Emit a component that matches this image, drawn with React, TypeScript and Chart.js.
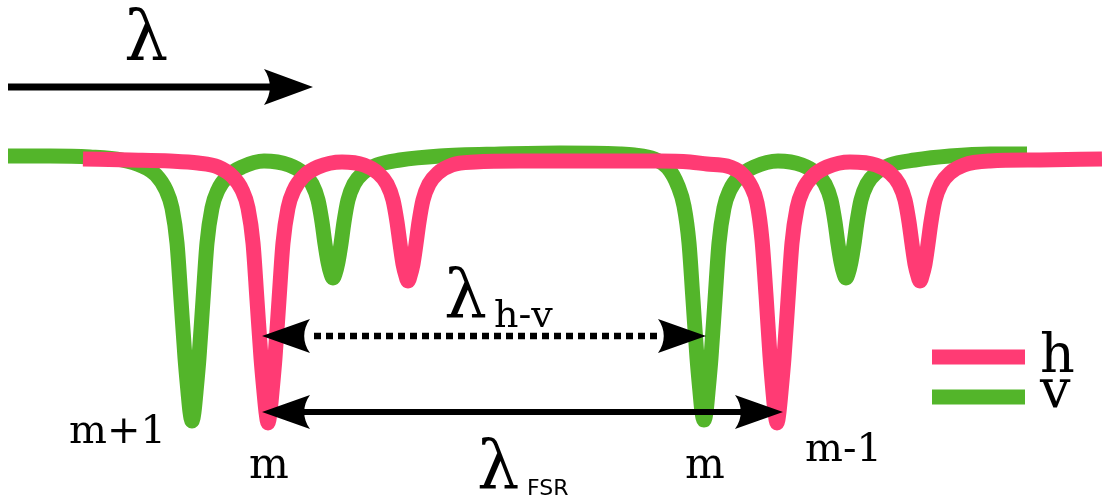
import React, { useEffect, useRef } from "react";
import { Chart, registerables } from "chart.js";

Chart.register(...registerables);

// ---- data (x: wavelength a.u., y: depth a.u., larger = deeper) ----
const hLabel = "h";
const vLabel = "v";

const hX = [83,130,170,198,218,232,242,248,253,257,261,264,266,268,270,272,275,279,283,288,294,304,318,342,364,378,387,393,397,400,403,406,408,410,413,416,419,423,429,438,452,475,520,600,660,690,707,727,741,751,757,762,766,770,773,775,777,779,781,784,788,792,797,803,813,827,850,876,890,899,905,909,912,915,918,920,922,925,928,931,935,941,950,964,990,1040,1102];
const hY = [159,160,161,163,167,176,190,208,243,300,358,392,412,423,412,392,358,300,243,208,190,176,167,162,165,173,184,200,222,244,264,276,281,276,264,244,222,200,184,173,165,162,161,161,161,162,164,166,173,186,203,240,295,356,392,412,423,412,392,358,300,243,208,190,176,167,162,165,173,184,200,222,244,264,276,281,276,264,244,222,200,184,173,165,161,160,159];

const vX = [8,50,90,122,142,156,166,172,177,181,185,188,190,192,194,196,199,203,207,212,218,228,242,264,289,303,312,318,322,325,328,331,333,335,338,341,344,348,354,363,377,400,440,500,560,620,634,654,668,678,684,689,693,697,700,702,704,706,708,711,715,719,724,730,740,754,778,802,816,825,831,835,838,841,844,846,848,851,854,857,861,867,876,890,915,950,990,1027];
const vY = [156,156,157,160,166,175,190,208,243,300,358,392,412,421,412,392,358,300,243,208,190,176,167,161,165,173,184,200,222,244,262,274,278,274,262,244,222,200,184,173,165,160,156,154,153,154,155,159,168,186,206,243,300,358,392,412,420,412,392,358,300,243,208,190,176,167,161,165,173,184,200,222,244,262,274,278,274,262,244,222,200,184,173,165,160,156,154,154];

// annotation values (in axis units)
const X_MIN = 0, X_MAX = 1102, Y_MIN = 0, Y_MAX = 497;
const dirArrow = { from: 8, to: 313, at: 87 };
const hvArrow = { from: 262, to: 706, at: 336 };
const fsrArrow = { from: 262, to: 783, at: 412 };
const orderLabels = ["m+1", "m", "m", "m-1"];
const orderLabelX = [69, 249, 685, 805];
const orderLabelY = [443, 478, 478, 461];

const H_COLOR = "#FF3B74";
const V_COLOR = "#53B52A";

function arrowHead(ctx: CanvasRenderingContext2D, tx: number, ty: number, dir: number, L: number, H: number) {
  const bx = tx - dir * L;
  ctx.beginPath();
  ctx.moveTo(tx, ty);
  ctx.lineTo(bx, ty - H);
  ctx.bezierCurveTo(bx + dir * 0.16 * L, ty - 0.4 * H, bx + dir * 0.16 * L, ty + 0.4 * H, bx, ty + H);
  ctx.closePath();
  ctx.fill();
}

const annotations = {
  id: "diagramAnnotations",
  afterDatasetsDraw(chart: any) {
    const ctx: CanvasRenderingContext2D = chart.ctx;
    const xs = chart.scales.x;
    const ys = chart.scales.y;
    const px = (v: number) => xs.getPixelForValue(v);
    const py = (v: number) => ys.getPixelForValue(v);
    ctx.save();
    ctx.fillStyle = "#000";
    ctx.strokeStyle = "#000";
    ctx.lineCap = "butt";

    // direction arrow
    ctx.lineWidth = 7;
    ctx.beginPath();
    ctx.moveTo(px(dirArrow.from), py(dirArrow.at));
    ctx.lineTo(px(dirArrow.to) - 40, py(dirArrow.at));
    ctx.stroke();
    arrowHead(ctx, px(dirArrow.to), py(dirArrow.at), 1, 49, 18);

    // dotted h-v arrow
    ctx.lineWidth = 6.5;
    ctx.setLineDash([7, 5]);
    ctx.beginPath();
    ctx.moveTo(px(hvArrow.from) + 52, py(hvArrow.at));
    ctx.lineTo(px(hvArrow.to) - 48, py(hvArrow.at));
    ctx.stroke();
    ctx.setLineDash([]);
    arrowHead(ctx, px(hvArrow.from), py(hvArrow.at), -1, 48, 17);
    arrowHead(ctx, px(hvArrow.to), py(hvArrow.at), 1, 48, 17);

    // solid FSR arrow
    ctx.lineWidth = 6;
    ctx.beginPath();
    ctx.moveTo(px(fsrArrow.from) + 40, py(fsrArrow.at));
    ctx.lineTo(px(fsrArrow.to) - 40, py(fsrArrow.at));
    ctx.stroke();
    arrowHead(ctx, px(fsrArrow.from), py(fsrArrow.at), -1, 48, 17);
    arrowHead(ctx, px(fsrArrow.to), py(fsrArrow.at), 1, 48, 17);

    // texts
    ctx.textBaseline = "alphabetic";
    ctx.textAlign = "left";
    ctx.font = '70px "DejaVu Serif"';
    ctx.fillText("λ", px(124), py(60));

    ctx.font = '68px "DejaVu Serif"';
    ctx.fillText("λ", px(444), py(317));
    ctx.font = '38px "DejaVu Serif"';
    ctx.fillText("h-v", px(494), py(327));

    ctx.font = '67px "DejaVu Serif"';
    ctx.fillText("λ", px(477), py(488));
    ctx.font = '22px "DejaVu Sans"';
    ctx.fillText("FSR", px(527), py(495));

    for (let i = 0; i < orderLabels.length; i++) {
      ctx.font = orderLabels[i] === "m" ? '42px "DejaVu Serif"' : '40px "DejaVu Serif"';
      ctx.fillText(orderLabels[i], px(orderLabelX[i]), py(orderLabelY[i]));
    }

    // legend
    const ds = chart.data.datasets;
    const legendY = [357, 397];
    const textY = [372, 407];
    for (let i = 0; i < ds.length; i++) {
      ctx.fillStyle = ds[i].borderColor;
      ctx.fillRect(px(932), py(legendY[i]) - 7.5, px(1025) - px(932), 15);
      ctx.fillStyle = "#000";
      ctx.font = '54px "DejaVu Serif"';
      ctx.fillText(ds[i].label, px(1040), py(textY[i]));
    }
    ctx.restore();
  },
};

export default function App() {
  const ref = useRef<HTMLCanvasElement>(null);
  useEffect(() => {
    if (!ref.current) return;
    const chart = new Chart(ref.current, {
      type: "line",
      data: {
        datasets: [
          {
            label: hLabel,
            data: hX.map((x, i) => ({ x, y: hY[i] })),
            borderColor: H_COLOR,
            backgroundColor: H_COLOR,
            borderWidth: 15,
            pointRadius: 0,
            cubicInterpolationMode: "monotone",
            fill: false,
          },
          {
            label: vLabel,
            data: vX.map((x, i) => ({ x, y: vY[i] })),
            borderColor: V_COLOR,
            backgroundColor: V_COLOR,
            borderWidth: 15,
            pointRadius: 0,
            cubicInterpolationMode: "monotone",
            fill: false,
          },
        ],
      },
      options: {
        animation: false,
        responsive: false,
        layout: { padding: 0 },
        elements: { line: { borderCapStyle: "butt", borderJoinStyle: "round" } },
        scales: {
          x: { type: "linear", min: X_MIN, max: X_MAX, display: false },
          y: { type: "linear", min: Y_MIN, max: Y_MAX, reverse: true, display: false },
        },
        plugins: { legend: { display: false }, tooltip: { enabled: false } },
      },
      plugins: [annotations],
    } as any);
    return () => chart.destroy();
  }, []);
  return (
    <div style={{ position: "absolute", left: 0, top: 0, width: 1102, height: 497, background: "#fff" }}>
      <canvas ref={ref} width={1102} height={497} style={{ display: "block" }} />
    </div>
  );
}
